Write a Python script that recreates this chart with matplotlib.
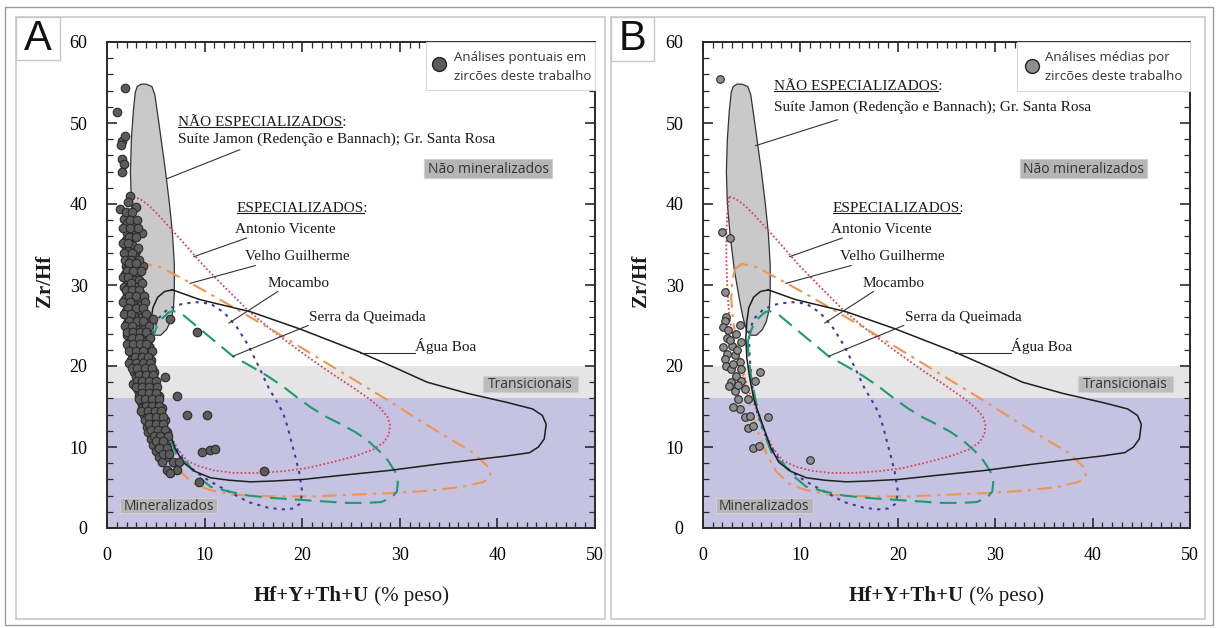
"""
Diagrama Zr/Hf vs Hf+Y+Th+U (% peso) em zircões.
Painel A: análises pontuais; painel B: médias por zircão.
"""

import matplotlib
matplotlib.use('Agg')
import matplotlib.pyplot as plt
from matplotlib.patches import Rectangle, Polygon
from matplotlib.lines import Line2D
from matplotlib.ticker import MultipleLocator


# DADOS

# Campo cinza: granitos não especializados (Suíte Jamon, Gr. Santa Rosa)
jamon_x = [3.1, 3.5, 4.0, 4.6, 4.9, 5.2, 5.6, 6.0, 6.4, 6.7, 6.9, 6.9, 6.8, 6.5, 6.1, 5.5,
           4.9, 4.5, 4.1, 3.7, 3.2, 2.8, 2.5, 2.4, 2.5, 2.7, 2.9]
jamon_y = [54.5, 54.8, 54.8, 54.5, 53.5, 51.0, 47.5, 44.0, 40.0, 36.5, 32.5, 29.0, 27.0, 25.5, 24.5, 23.8,
           23.8, 24.3, 26.0, 28.5, 32.0, 36.0, 40.0, 44.0, 48.0, 51.5, 53.8]

# Antonio Vicente (pontilhado vermelho)
av_x = [2.7, 3.4, 4.3, 5.3, 6.5, 8.0, 9.8, 12.0, 14.5, 17.0, 19.8, 22.5, 25.0, 26.8, 28.0, 28.7,
        29.0, 28.9, 28.4, 27.3, 25.5, 23.0, 20.5, 18.0, 15.5, 13.0, 11.0, 9.5, 8.2, 7.2, 6.3, 5.5,
        4.7, 3.9, 3.2, 2.7, 2.5, 2.4, 2.4, 2.5, 2.7]
av_y = [40.9, 40.6, 39.8, 38.6, 37.0, 35.0, 32.5, 29.8, 26.8, 24.3, 21.8, 19.5, 17.5, 16.0, 14.8, 13.8,
        12.8, 11.6, 10.6, 9.7, 8.9, 8.1, 7.4, 7.0, 6.8, 6.8, 7.1, 7.6, 8.3, 9.8, 12.0, 14.5,
        17.0, 20.0, 23.0, 26.0, 29.5, 33.0, 36.5, 39.0, 40.9]

# Velho Guilherme (traço-ponto laranja)
vg_x = [3.3, 4.0, 5.5, 8.0, 11.0, 14.0, 17.0, 20.0, 23.0, 26.0, 29.0, 32.0, 35.0, 37.5, 39.1, 39.3,
        38.6, 36.5, 33.0, 29.0, 25.0, 21.0, 17.0, 13.0, 10.5, 8.8, 7.5, 6.5, 5.6, 4.8, 4.1, 3.5,
        3.1, 2.9, 3.0, 3.3]
vg_y = [32.0, 32.6, 32.2, 30.6, 28.6, 26.5, 24.4, 22.2, 20.0, 17.8, 15.6, 13.3, 11.1, 9.3, 7.5, 6.5,
        5.7, 5.1, 4.6, 4.3, 4.1, 3.9, 3.9, 4.1, 4.7, 5.5, 7.0, 9.2, 12.0, 15.2, 18.8, 22.5,
        25.5, 28.3, 30.5, 32.0]

# Mocambo (pontilhado azul)
mo_x = [4.7, 5.2, 6.2, 7.5, 9.0, 10.6, 12.0, 13.3, 14.5, 15.6, 16.6, 17.4, 18.0, 18.5, 18.9, 19.3,
        19.7, 20.0, 19.8, 19.0, 18.0, 16.5, 14.5, 12.0, 10.5, 9.0, 7.8, 6.8, 6.0, 5.4, 5.0, 4.8, 4.7]
mo_y = [24.0, 25.8, 27.0, 27.6, 27.9, 27.7, 26.6, 24.8, 22.5, 19.8, 17.2, 15.6, 14.3, 12.5, 10.6, 8.8,
        6.8, 4.5, 3.0, 2.4, 2.3, 2.5, 3.2, 4.8, 5.8, 7.0, 8.5, 10.4, 12.6, 15.0, 18.0, 21.0, 24.0]

# Serra da Queimada (tracejado verde)
sq_x = [4.6, 5.0, 5.6, 6.3, 6.8, 7.8, 9.5, 11.2, 12.9, 14.7, 16.4, 18.0, 19.5, 21.0, 22.5, 24.0,
        25.5, 26.8, 27.9, 28.8, 29.5, 29.8, 29.7, 29.2, 28.1, 26.5, 24.5, 22.0, 19.5, 17.0, 14.5, 12.5,
        10.6, 9.2, 8.2, 7.2, 6.5, 5.9, 5.4, 5.0, 4.7, 4.6]
sq_y = [23.0, 24.6, 25.8, 26.6, 26.8, 26.3, 24.6, 22.9, 21.2, 20.0, 18.8, 17.5, 16.1, 14.8, 13.7, 12.8,
        11.8, 10.7, 9.5, 8.3, 7.0, 5.6, 4.5, 3.8, 3.2, 3.1, 3.1, 3.3, 3.5, 3.7, 4.0, 4.5,
        5.1, 6.5, 8.0, 8.8, 11.0, 13.4, 15.8, 18.2, 20.8, 23.0]

# Água Boa (linha contínua preta)
ab_x = [6.7, 9.5, 14.7, 19.7, 25.9, 29.5, 32.8, 37.0, 41.0, 43.6, 44.6, 45.0, 44.8, 44.2, 43.3, 41.0,
        38.9, 34.0, 28.9, 24.0, 20.1, 17.0, 14.7, 12.5, 10.6, 9.0, 7.8, 7.0, 6.4, 5.8, 5.2, 4.8,
        4.5, 4.4, 4.5, 4.7, 5.2, 5.9, 6.7]
ab_y = [29.4, 28.2, 26.7, 24.6, 21.7, 19.8, 18.0, 16.6, 15.5, 14.7, 13.9, 12.8, 11.0, 10.0, 9.3, 8.9,
        8.6, 7.9, 7.1, 6.5, 6.0, 5.8, 5.7, 5.9, 6.2, 7.0, 8.1, 9.8, 11.8, 13.8, 16.0, 18.5,
        21.0, 23.5, 25.5, 27.2, 28.5, 29.2, 29.4]

# Painel A: análises pontuais em zircões
pts_a_x = [1.8, 1.0, 1.5, 1.8, 1.4, 1.5, 1.7, 1.5, 2.4, 2.2, 3.0, 1.3,
           2.1, 1.7, 2.0, 2.7, 3.6, 2.0, 2.9, 1.9, 2.5, 1.8, 2.6, 2.2, 3.0, 2.2, 2.9,
           3.7, 1.9, 2.0, 2.6, 1.8, 2.4, 3.0, 2.0, 2.8, 3.3, 1.7, 2.3, 3.0,
           2.0, 2.7, 3.4, 1.8, 2.5, 3.2, 2.1, 2.8, 3.5, 1.9, 2.6, 3.3, 2.2, 2.9, 3.6,
           4.7, 6.5, 2.0, 2.7, 3.4, 4.0, 2.3, 3.0, 3.8, 9.2,
           2.1, 2.8, 3.5, 4.1, 2.4, 3.1, 3.8, 2.3, 3.0, 3.7, 4.3, 2.6, 3.3, 4.0,
           2.5, 3.2, 3.9, 4.5, 2.7, 3.4, 4.1, 2.8, 3.5, 4.2, 4.8, 3.0, 3.7, 4.4, 5.9,
           2.7, 3.4, 4.1, 4.8, 3.2, 3.9, 4.6, 3.3, 4.0, 4.7, 5.3, 7.2,
           3.5, 4.2, 4.9, 3.6, 4.3, 5.0, 5.6, 3.8, 4.5, 5.2, 8.2, 10.2,
           3.9, 4.6, 5.3, 5.9, 4.1, 4.8, 5.5, 4.2, 4.9, 5.6, 6.1, 4.5, 5.1, 5.8,
           4.7, 5.4, 6.0, 5.0, 5.7, 6.3, 9.7, 10.6, 11.1, 5.3, 6.0,
           5.6, 6.8, 7.4, 6.1, 7.2, 16.1, 6.5, 9.4,
           1.9, 2.6, 2.4, 3.1, 1.6, 2.4, 3.2, 2.3, 3.0, 1.6, 2.2, 3.2, 1.7, 2.6,
           1.8, 2.5, 3.3, 2.3, 3.0, 2.1, 2.7, 3.5, 1.6, 2.2, 2.5, 3.6, 1.9, 2.6, 3.3,
           2.3, 3.0, 3.8, 1.6, 2.4, 3.9, 2.2, 3.0, 3.7, 1.7, 2.5, 4.0, 2.3, 3.1, 3.7,
           1.8, 2.6, 4.3, 2.0, 2.7, 3.4, 4.0, 2.6, 3.3, 4.4, 2.0, 2.7, 3.4, 4.0,
           2.3, 3.0, 3.7, 4.6, 2.9, 3.6, 4.2, 2.3, 3.0, 3.7, 4.4, 2.6, 3.1, 3.9, 4.6,
           3.3, 4.0, 4.7, 3.1, 3.6, 4.3, 5.0, 3.0, 3.6, 4.3, 5.1, 3.6, 4.3, 5.0,
           3.3, 3.9, 4.6, 5.3, 4.0, 4.6, 5.3, 3.5, 4.2, 4.9, 5.5, 4.3, 5.0, 5.7,
           4.3, 5.0, 5.7, 4.5, 5.2, 5.9, 4.8, 5.4, 6.2, 5.0, 5.7, 5.3, 6.1, 5.7, 6.4]
pts_a_y = [54.3, 51.3, 47.8, 48.4, 47.3, 45.5, 45.0, 43.9, 41.0, 40.2, 39.6, 39.4,
           38.5, 38.2, 37.6, 37.6, 36.4, 36.4, 36.2, 35.6, 35.6, 34.9, 34.9, 34.2, 34.2, 33.5, 33.5,
           32.4, 32.4, 32.0, 32.0, 31.3, 31.3, 31.3, 30.6, 30.6, 30.6, 29.8, 29.8, 29.8,
           29.0, 29.0, 29.0, 28.3, 28.3, 28.3, 27.5, 27.5, 27.5, 26.8, 26.8, 26.8, 26.0, 26.0, 26.0,
           25.8, 25.8, 25.3, 25.3, 25.3, 25.3, 24.6, 24.6, 24.6, 24.2,
           23.8, 23.8, 23.8, 23.8, 23.0, 23.0, 23.0, 22.3, 22.3, 22.3, 22.3, 21.5, 21.5, 21.5,
           20.8, 20.8, 20.8, 20.8, 20.0, 20.0, 20.0, 19.3, 19.3, 19.3, 19.3, 18.6, 18.6, 18.6, 18.6,
           17.8, 17.8, 17.8, 17.8, 17.0, 17.0, 17.0, 16.3, 16.3, 16.3, 16.3, 16.3,
           15.5, 15.5, 15.5, 14.8, 14.8, 14.8, 14.8, 14.0, 14.0, 14.0, 14.0, 14.0,
           13.3, 13.3, 13.3, 13.3, 12.5, 12.5, 12.5, 11.8, 11.8, 11.8, 11.8, 11.0, 11.0, 11.0,
           10.3, 10.3, 10.3, 9.5, 9.5, 9.5, 9.4, 9.6, 9.8, 8.8, 8.8,
           8.1, 8.1, 8.1, 7.2, 7.2, 7.0, 6.8, 5.7,
           39.0, 39.0, 38.0, 38.0, 37.0, 37.0, 37.0, 35.9, 35.9, 35.2, 35.2, 34.6, 33.9, 33.9,
           33.1, 33.1, 33.1, 32.7, 32.7, 31.7, 31.7, 31.7, 31.0, 31.0, 30.2, 30.2, 29.4, 29.4, 29.4,
           28.7, 28.7, 28.7, 27.9, 27.9, 27.9, 27.1, 27.1, 27.1, 26.4, 26.4, 26.4, 25.6, 25.6, 25.6,
           24.9, 24.9, 24.9, 24.2, 24.2, 24.2, 24.2, 23.4, 23.4, 23.4, 22.7, 22.7, 22.7, 22.7,
           21.9, 21.9, 21.9, 21.9, 21.1, 21.1, 21.1, 20.4, 20.4, 20.4, 20.4, 19.7, 19.7, 19.7, 19.7,
           18.9, 18.9, 18.9, 18.2, 18.2, 18.2, 18.2, 17.4, 17.4, 17.4, 17.4, 16.7, 16.7, 16.7,
           15.9, 15.9, 15.9, 15.9, 15.1, 15.1, 15.1, 14.4, 14.4, 14.4, 14.4, 13.7, 13.7, 13.7,
           12.9, 12.9, 12.9, 12.1, 12.1, 12.1, 11.4, 11.4, 11.4, 10.7, 10.7, 9.9, 9.9, 9.1, 9.1]

# Painel B: médias por zircão
pts_b_x = [1.7, 2.0, 2.8, 2.3, 2.4, 2.3, 3.8, 2.1, 2.6, 3.4, 2.5, 2.1, 3.0, 3.9, 2.5, 2.3,
           3.3, 3.8, 2.4, 2.9, 3.9, 3.4, 2.9, 3.9, 3.3, 4.3, 3.6, 4.6, 3.8, 4.3, 4.8, 5.9,
           5.3, 6.7, 4.6, 5.1, 5.1, 5.8, 11.0, 2.8, 3.1, 3.5, 2.7, 3.6, 3.1]
pts_b_y = [55.4, 36.5, 35.8, 29.1, 26.1, 25.5, 25.1, 24.8, 24.4, 24.0, 23.4, 22.4, 22.5, 23.0, 21.5, 20.9,
           21.3, 20.5, 20.0, 19.6, 19.6, 18.8, 18.0, 18.1, 16.9, 17.1, 15.9, 15.9, 14.7, 13.7, 13.8, 19.3,
           18.1, 13.7, 12.3, 12.6, 9.9, 10.1, 8.4, 23.2, 20.2, 22.0, 17.5, 17.6, 15.0]

# Traços de ligação dos rótulos (x0, x1, y0, y1)
lider_av = ([14.3, 8.9], [35.8, 33.5])
lider_vg = ([15.2, 8.5], [32.4, 30.2])
lider_mo = ([17.5, 12.5], [29.2, 25.3])
lider_sq = ([20.6, 12.9], [25.0, 21.2])
lider_ab = ([31.6, 25.9], [21.6, 21.6])
lider_jamon_a = ([13.6, 6.1], [46.7, 43.1])
lider_jamon_b = ([13.8, 5.4], [50.4, 47.2])


# ESTILO

SERIF = 'Liberation Serif'
SANS = 'Open Sans'
W, H = 1216, 628

ESTILOS = {
    'av': {'color': '#d9455c', 'linewidth': 1.3, 'linestyle': (0, (1, 1.2))},
    'vg': {'color': '#ef9550', 'linewidth': 1.5, 'linestyle': (0, (7, 3, 1.5, 3))},
    'mo': {'color': '#3b3e9e', 'linewidth': 1.5, 'linestyle': (0, (1.5, 2.5))},
    'sq': {'color': '#1d9a72', 'linewidth': 1.5, 'linestyle': (0, (8, 4))},
    'ab': {'color': '#1e1e1e', 'linewidth': 1.1, 'linestyle': '-'},
}

PAINEIS = {
    'A': {
        'caixa_ax': [107, 42, 595, 528],
        'pts': (pts_a_x, pts_a_y),
        'cor_pts': '#5c5c5c', 's': 38,
        'legenda': ['Análises pontuais em', 'zircões deste trabalho'],
        'leg_caixa': (426, 90), 'leg_circ': (439, 64), 'leg_txt': 454,
        'jamon_y': (50.0, 48.0), 'lider_jamon': lider_jamon_a,
        'moldura': (16, 17, 605, 619), 'caixa_letra': (16, 17, 60, 60),
    },
    'B': {
        'caixa_ax': [703, 42, 1190, 528],
        'pts': (pts_b_x, pts_b_y),
        'cor_pts': '#8e8e8e', 's': 30,
        'legenda': ['Análises médias por', 'zircões deste trabalho'],
        'leg_caixa': (1017, 91), 'leg_circ': (1032, 66), 'leg_txt': 1045,
        'jamon_y': (54.5, 52.0), 'lider_jamon': lider_jamon_b,
        'moldura': (611, 17, 1205, 619), 'caixa_letra': (611, 17, 654, 61),
    },
}


def fx(px):
    return px / W


def fy(py):
    return 1 - py / H


def caixa_rotulo(ax, x0, x1, y0, y1, texto, face):
    ax.add_patch(Rectangle((x0, y0), x1 - x0, y1 - y0, facecolor=face,
                           edgecolor='#d0d0d0', linewidth=0.8, zorder=6))
    ax.text((x0 + x1) / 2, (y0 + y1) / 2 - 0.1, texto, ha='center', va='center',
            fontsize=10, family=SANS, color='#333333', zorder=7)


def sublinhar(ax, x, y, texto, parte, renderer):
    kw = dict(fontsize=11, family=SERIF, color='#1a1a1a', va='center', ha='left', zorder=8)
    ax.text(x, y, texto, **kw)
    tmp = ax.text(x, y, parte, **kw)
    bb = tmp.get_window_extent(renderer)
    tmp.remove()
    inv = ax.transData.inverted()
    (x0, y0), (x1, _) = inv.transform([(bb.x0, bb.y0 + 2.5), (bb.x1, bb.y0 + 2.5)])
    ax.plot([x0, x1], [y0, y0], color='#1a1a1a', linewidth=0.8, zorder=8)


fig = plt.figure(figsize=(W / 100, H / 100), dpi=100)
renderer = fig.canvas.get_renderer()

# molduras externas
fig.add_artist(Rectangle((fx(5), fy(625)), fx(1208), 618 / H, transform=fig.transFigure,
                         fill=False, edgecolor='#9a9a9a', linewidth=1.0))

for letra, cfg in PAINEIS.items():
    l, t, r, b = cfg['caixa_ax']
    ax = fig.add_axes([fx(l), fy(b), (r - l) / W, (b - t) / H])

    m0, m1, m2, m3 = cfg['moldura']
    fig.add_artist(Rectangle((fx(m0), fy(m3)), (m2 - m0) / W, (m3 - m1) / H,
                             transform=fig.transFigure, fill=False,
                             edgecolor='#d2d2d2', linewidth=1.5))
    c0, c1, c2, c3 = cfg['caixa_letra']
    fig.add_artist(Rectangle((fx(c0), fy(c3)), (c2 - c0) / W, (c3 - c1) / H,
                             transform=fig.transFigure, facecolor='white',
                             edgecolor='#c8c8c8', linewidth=1.0))
    fig.text(fx((c0 + c2) / 2), fy((c1 + c3) / 2), letra, ha='center', va='center',
             fontsize=30, family='Liberation Sans', color='#111111')

    # faixas de fundo
    ax.axhspan(0, 16, color='#c5c3e1', zorder=0, linewidth=0)
    ax.axhspan(16, 20, color='#e5e5e6', zorder=0, linewidth=0)

    ax.add_patch(Polygon(list(zip(jamon_x, jamon_y)), closed=True, facecolor='#c9c9c9',
                         edgecolor='#333333', linewidth=0.9, zorder=2))

    for chave, (xs, ys) in {'av': (av_x, av_y), 'vg': (vg_x, vg_y), 'mo': (mo_x, mo_y),
                            'sq': (sq_x, sq_y), 'ab': (ab_x, ab_y)}.items():
        ax.plot(xs, ys, zorder=3, **ESTILOS[chave])

    px, py = cfg['pts']
    ax.scatter(px, py, s=cfg['s'], facecolor=cfg['cor_pts'], edgecolor='#2b2b2b',
               linewidth=0.8, zorder=5)

    ax.set_xlim(0, 50)
    ax.set_ylim(0, 60)

    # rótulos
    caixa_rotulo(ax, 32.5, 45.6, 43.2, 45.5, 'Não mineralizados', '#b5b5b5')
    caixa_rotulo(ax, 38.5, 48.3, 16.8, 18.8, 'Transicionais', '#bcbcbc')
    caixa_rotulo(ax, 1.3, 11.3, 1.9, 3.7, 'Mineralizados', '#b6b6b9')

    kw = dict(fontsize=11, family=SERIF, color='#1a1a1a', va='center', ha='left', zorder=8)
    jy0, jy1 = cfg['jamon_y']
    sublinhar(ax, 7.3, jy0, 'NÃO ESPECIALIZADOS:', 'NÃO ESPECIALIZADOS', renderer)
    ax.text(7.3, jy1, 'Suíte Jamon (Redenção e Bannach); Gr. Santa Rosa', **kw)
    sublinhar(ax, 13.3, 39.4, 'ESPECIALIZADOS:', 'ESPECIALIZADOS', renderer)
    ax.text(13.1, 36.8, 'Antonio Vicente', **kw)
    ax.text(14.1, 33.5, 'Velho Guilherme', **kw)
    ax.text(16.4, 30.2, 'Mocambo', **kw)
    ax.text(20.7, 26.1, 'Serra da Queimada', **kw)
    ax.text(31.6, 22.5, 'Água Boa', **kw)

    for lx, ly in [cfg['lider_jamon'], lider_av, lider_vg, lider_mo, lider_sq, lider_ab]:
        ax.plot(lx, ly, color='#333333', linewidth=0.8, zorder=8)

    # legenda
    lx0, lyb = cfg['leg_caixa']
    fig.add_artist(Rectangle((fx(lx0), fy(lyb)), (r - lx0) / W, (lyb - t) / H,
                             transform=fig.transFigure, facecolor='white',
                             edgecolor='#d8d8d8', linewidth=0.8, zorder=9))
    cx, cy = cfg['leg_circ']
    fig.add_artist(Line2D([fx(cx)], [fy(cy)], transform=fig.transFigure, marker='o',
                          markersize=10, markerfacecolor=cfg['cor_pts'],
                          markeredgecolor='#222222', markeredgewidth=1.0, linestyle='none',
                          zorder=10))
    fig.text(fx(cfg['leg_txt']), fy(57), cfg['legenda'][0], va='center', ha='left',
             fontsize=9.5, family=SANS, color='#333333', zorder=10)
    fig.text(fx(cfg['leg_txt']), fy(77), cfg['legenda'][1], va='center', ha='left',
             fontsize=9.5, family=SANS, color='#333333', zorder=10)

    # eixos
    ax.xaxis.set_major_locator(MultipleLocator(10))
    ax.xaxis.set_minor_locator(MultipleLocator(1))
    ax.yaxis.set_major_locator(MultipleLocator(10))
    ax.yaxis.set_minor_locator(MultipleLocator(2))
    ax.tick_params(which='both', direction='in', top=True, right=True, color='#2a2a2a')
    ax.tick_params(which='major', length=7, width=1.2, pad=14)
    ax.tick_params(which='minor', length=4, width=0.9)
    for lab in ax.get_xticklabels() + ax.get_yticklabels():
        lab.set_fontfamily(SERIF)
        lab.set_fontsize(13)
    for sp in ax.spines.values():
        sp.set_linewidth(1.4)
        sp.set_color('#2a2a2a')

    fig.text(fx(l - 62), fy((t + b) / 2 - 4), 'Zr/Hf', rotation=90, ha='center', va='center',
             fontsize=15, family=SERIF, weight='bold', color='#1a1a1a')

    t1 = fig.text(0, fy(596), 'Hf+Y+Th+U', ha='left', va='center', fontsize=15,
                  family=SERIF, weight='bold', color='#1a1a1a')
    t2 = fig.text(0, fy(596), ' (% peso)', ha='left', va='center', fontsize=15,
                  family=SERIF, color='#1a1a1a')
    w1 = t1.get_window_extent(renderer).width
    w2 = t2.get_window_extent(renderer).width
    inicio = (l + r) / 2 - (w1 + w2) / 2
    t1.set_x(fx(inicio))
    t2.set_x(fx(inicio + w1))

fig.savefig('out.png', dpi=100)
